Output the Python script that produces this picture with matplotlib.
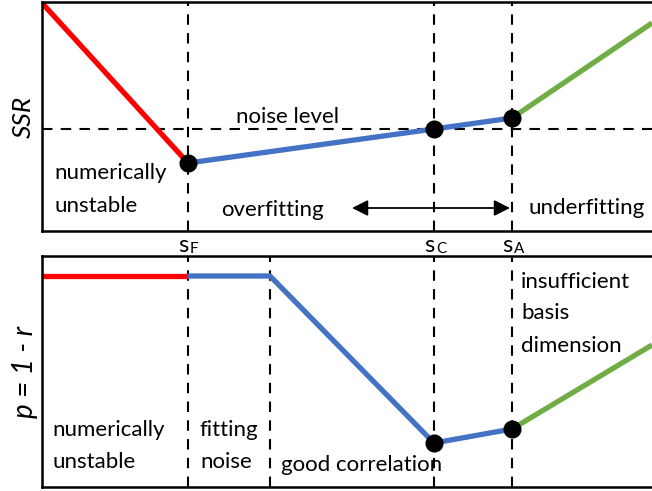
import matplotlib
matplotlib.use("Agg")
import matplotlib.pyplot as plt

plt.rcParams['font.family'] = ['Lato', 'DejaVu Sans']

# x positions of the break points (arbitrary units)
s_F = 146
s_G = 228      # end of "fitting noise"
s_C = 392
s_A = 470
x_end = 610

# top panel: SSR
ssr_x = [0, s_F, s_C, s_A, x_end]
ssr_y = [228, 68, 102, 113, 208]
noise_level = 102

# bottom panel: p = 1 - r
p_x = [0, s_F, s_G, s_C, s_A, x_end]
p_y = [211, 211, 211, 44, 58, 142]

red = "#ff0000"
blue = "#4472c4"
green = "#70ad47"

fig = plt.figure(figsize=(6.52, 4.91), dpi=100)
ax1 = fig.add_axes([42/652, 1-231/491, 612/652, 229/491])
ax2 = fig.add_axes([42/652, 1-487/491, 612/652, 231/491])

dash = dict(color="k", lw=1.5, ls=(0, (5, 4)), zorder=1)
lw = 3.8

for ax in (ax1, ax2):
    ax.set_xlim(0, 612)
    ax.set_xticks([])
    ax.set_yticks([])
    for sp in ax.spines.values():
        sp.set_linewidth(1.8)
    ax.spines['right'].set_visible(False)

# ---- top panel ----
ax1.set_ylim(0, 229)
for xv in (s_F, s_C, s_A):
    ax1.axvline(xv, **dash)
ax1.axhline(noise_level, **dash)
ax1.plot(ssr_x[0:2], ssr_y[0:2], color=red, lw=lw, solid_capstyle="butt")
ax1.plot(ssr_x[1:4], ssr_y[1:4], color=blue, lw=lw, solid_capstyle="butt")
ax1.plot(ssr_x[3:5], ssr_y[3:5], color=green, lw=lw, solid_capstyle="butt")
ax1.plot(ssr_x[1:4], ssr_y[1:4], "o", color="k", ms=12, zorder=5)

fs = 16
ax1.text(194, noise_level + 2, "noise level", fontsize=fs, va="bottom")
ax1.text(12, 58, "numerically", fontsize=fs, va="center")
ax1.text(12, 25, "unstable", fontsize=fs, va="center")
ax1.text(179, 21, "overfitting", fontsize=fs, va="center")
ax1.text(486, 23, "underfitting", fontsize=fs, va="center")
ax1.annotate("", xy=(310, 23), xytext=(s_A - 2, 23),
             arrowprops=dict(arrowstyle="<|-|>", color="k", lw=1.3,
                             mutation_scale=24, shrinkA=0, shrinkB=0))
ax1.set_ylabel("SSR", fontsize=19, style="italic", labelpad=5)

# tick-like labels sF, sC, sA
for xv, sub in ((s_F, "F"), (s_C, "C"), (s_A, "A")):
    ax1.annotate("s", xy=(xv, 0), xytext=(-7, -3), textcoords="offset points",
                 fontsize=17, ha="left", va="top")
    ax1.annotate(sub, xy=(xv, 0), xytext=(1.5, -8), textcoords="offset points",
                 fontsize=11, ha="left", va="top")

# ---- bottom panel ----
ax2.set_ylim(0, 231)
for xv in (s_F, s_G, s_C, s_A):
    ax2.axvline(xv, **dash)
ax2.plot(p_x[0:2], p_y[0:2], color=red, lw=lw, solid_capstyle="butt")
ax2.plot(p_x[1:5], p_y[1:5], color=blue, lw=lw, solid_capstyle="butt")
ax2.plot(p_x[4:6], p_y[4:6], color=green, lw=lw, solid_capstyle="butt")
ax2.plot(p_x[3:5], p_y[3:5], "o", color="k", ms=12, zorder=5)

ax2.text(10, 57, "numerically", fontsize=fs, va="center")
ax2.text(10, 25, "unstable", fontsize=fs, va="center")
ax2.text(158, 57, "fitting", fontsize=fs, va="center")
ax2.text(158, 25, "noise", fontsize=fs, va="center")
ax2.text(239, 22, "good correlation", fontsize=fs, va="center")
ax2.text(479, 205, "insufficient", fontsize=fs, va="center")
ax2.text(479, 174, "basis", fontsize=fs, va="center")
ax2.text(479, 141, "dimension", fontsize=fs, va="center")
ax2.set_ylabel("p = 1 - r", fontsize=20, style="italic", labelpad=3)

fig.savefig("out.png", dpi=100)
